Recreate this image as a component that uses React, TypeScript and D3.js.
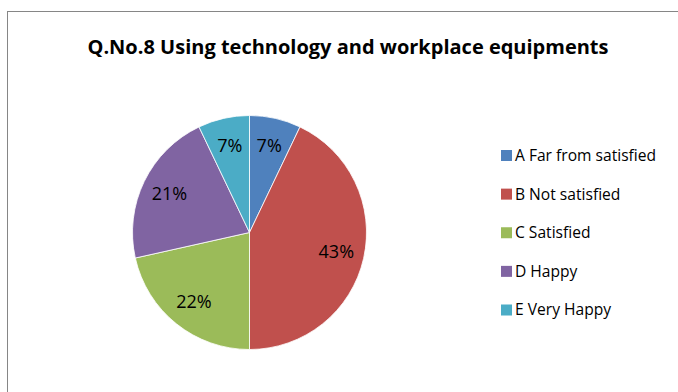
import React from "react";
import * as d3 from "d3";

const categories = ["A Far from satisfied", "B Not satisfied", "C Satisfied", "D Happy", "E Very Happy"];
const values = [7.1, 42.9, 21.5, 21.4, 7.1];
const colors = ["#4F81BD", "#C0504D", "#9BBB59", "#8064A2", "#4BACC6"];
const title = "Q.No.8 Using technology and workplace equipments";

const W = 678, H = 392;
const cx = 249.5, cy = 232.5, R = 117;
const font = "'Open Sans', sans-serif";

export default function App() {
  const total = d3.sum(values);
  const pie = d3.pie<number>().sort(null).value((d) => d)(values);
  const arc = d3.arc<d3.PieArcDatum<number>>().innerRadius(0).outerRadius(R);
  const labelArc = d3.arc<d3.PieArcDatum<number>>().innerRadius(89).outerRadius(89);
  const legendY = d3.scalePoint<number>().domain(d3.range(categories.length)).range([155.5, 310]);
  return (
    <svg width={W} height={H} style={{ position: "absolute", left: 0, top: 0 }} fontFamily={font}>
      <rect x={0} y={0} width={W} height={H} fill="#fff" />
      <rect x={7.5} y={11.5} width={W + 20} height={H + 20} fill="#fff" stroke="#868686" strokeWidth={1} />
      <text x={348} y={54} textAnchor="middle" fontSize={20} fontWeight="bold" fill="#000">{title}</text>
      <g transform={`translate(${cx},${cy})`}>
        {pie.map((p, i) => (
          <path key={i} d={arc(p) || ""} fill={colors[i]} stroke="#fff" strokeWidth={0.8} />
        ))}
        {pie.map((p, i) => {
          const [x, y] = labelArc.centroid(p);
          return (
            <text key={i} x={x} y={y} dy="0.35em" textAnchor="middle" fontSize={18} fill="#000">
              {Math.round((p.data / total) * 100)}%
            </text>
          );
        })}
      </g>
      {categories.map((c, i) => (
        <g key={c} transform={`translate(501,${legendY(i)})`}>
          <rect x={0} y={-5.5} width={11} height={11} fill={colors[i]} />
          <text x={14} y={0} dy="0.35em" fontSize={15.6} fill="#000">{c}</text>
        </g>
      ))}
    </svg>
  );
}
